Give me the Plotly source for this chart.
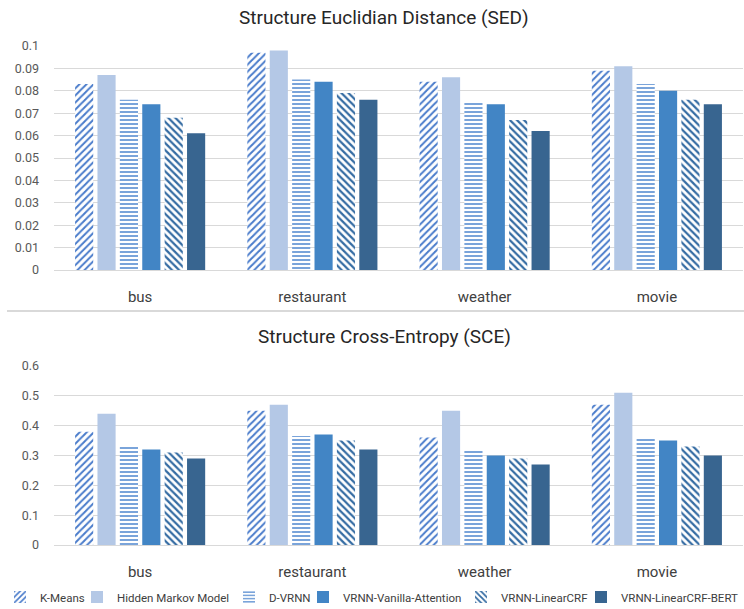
import plotly.graph_objects as go
from plotly.subplots import make_subplots

categories = ["bus", "restaurant", "weather", "movie"]
methods = ["K-Means", "Hidden Markov Model", "D-VRNN", "VRNN-Vanilla-Attention",
           "VRNN-LinearCRF", "VRNN-LinearCRF-BERT"]

sed_kmeans = [0.083, 0.097, 0.084, 0.089]
sed_hmm = [0.087, 0.098, 0.086, 0.091]
sed_dvrnn = [0.076, 0.085, 0.075, 0.083]
sed_vanilla = [0.074, 0.084, 0.074, 0.080]
sed_crf = [0.068, 0.079, 0.067, 0.076]
sed_bert = [0.061, 0.076, 0.062, 0.074]

sce_kmeans = [0.38, 0.45, 0.36, 0.47]
sce_hmm = [0.44, 0.47, 0.45, 0.51]
sce_dvrnn = [0.33, 0.365, 0.32, 0.355]
sce_vanilla = [0.32, 0.37, 0.30, 0.35]
sce_crf = [0.31, 0.35, 0.29, 0.33]
sce_bert = [0.29, 0.32, 0.27, 0.30]

sed_ticks = [0, 0.01, 0.02, 0.03, 0.04, 0.05, 0.06, 0.07, 0.08, 0.09, 0.1]
sed_ticklabels = ["0", "0.01", "0.02", "0.03", "0.04", "0.05", "0.06", "0.07", "0.08", "0.09", "0.1"]
sce_ticks = [0, 0.1, 0.2, 0.3, 0.4, 0.5, 0.6]
sce_ticklabels = ["0", "0.1", "0.2", "0.3", "0.4", "0.5", "0.6"]

sed_series = [sed_kmeans, sed_hmm, sed_dvrnn, sed_vanilla, sed_crf, sed_bert]
sce_series = [sce_kmeans, sce_hmm, sce_dvrnn, sce_vanilla, sce_crf, sce_bert]

styles = [
    dict(color="white", pattern=dict(shape="/", fgcolor="#4A7CCB", bgcolor="white", size=5, solidity=0.4, fillmode="replace")),
    dict(color="#B4C8E6"),
    dict(color="white", pattern=dict(shape="-", fgcolor="#7AA4DA", bgcolor="white", size=4, solidity=0.5, fillmode="replace")),
    dict(color="#4285C5"),
    dict(color="white", pattern=dict(shape="\\", fgcolor="#356CA3", bgcolor="white", size=5, solidity=0.45, fillmode="replace")),
    dict(color="#386590"),
]

FONT = "Roboto, Arial"
W, H = 744, 609

legend_names = ["legend", "legend2", "legend3", "legend4", "legend5", "legend6"]
legend_text_x = [40, 117, 269, 343, 501, 621]

fig = make_subplots(rows=2, cols=1)

for i, name in enumerate(methods):
    fig.add_trace(go.Bar(x=categories, y=sed_series[i], name=name, marker=styles[i],
                         marker_line_width=0, legendgroup=name, showlegend=True,
                         legend=legend_names[i]), row=1, col=1)
    fig.add_trace(go.Bar(x=categories, y=sce_series[i], name=name, marker=styles[i],
                         marker_line_width=0, legendgroup=name, showlegend=False,
                         legend=legend_names[i]), row=2, col=1)

legends = {}
for i, ln in enumerate(legend_names):
    if i == len(legend_names) - 1:
        legends[ln] = dict(orientation="h", x=1, xanchor="right", y=1 - 597 / H,
                           yanchor="middle", font=dict(size=11.5, color="#404040"),
                           itemwidth=30, bgcolor="rgba(0,0,0,0)", borderwidth=0)
    else:
        legends[ln] = dict(orientation="h", x=(legend_text_x[i] - 40) / W, xanchor="left",
                           y=1 - 597 / H, yanchor="middle",
                           font=dict(size=11.5, color="#404040"),
                           itemwidth=30, bgcolor="rgba(0,0,0,0)", borderwidth=0)

xd = [54 / W, 743 / W]
fig.update_layout(
    width=W, height=H,
    margin=dict(l=0, r=0, t=0, b=0, autoexpand=False),
    plot_bgcolor="white", paper_bgcolor="white",
    barmode="group", bargap=0.22, bargroupgap=0.19,
    font=dict(family=FONT, color="#404040"),
    xaxis=dict(domain=xd, tickfont=dict(size=15, color="#404040"), showgrid=False,
               showline=False, ticks="", ticklabelstandoff=16),
    xaxis2=dict(domain=xd, tickfont=dict(size=15, color="#404040"), showgrid=False,
                showline=False, ticks="", ticklabelstandoff=16),
    yaxis=dict(domain=[1 - 270 / H, 1 - 46 / H], range=[0, 0.1], tickvals=sed_ticks,
               ticktext=sed_ticklabels, gridcolor="#D9D9D9", gridwidth=1, zeroline=True,
               zerolinecolor="#D9D9D9", zerolinewidth=1,
               tickfont=dict(size=12.5, color="#595959"), ticklabelstandoff=14),
    yaxis2=dict(domain=[1 - 545 / H, 1 - 366 / H], range=[0, 0.6], tickvals=sce_ticks,
                ticktext=sce_ticklabels, gridcolor="#D9D9D9", gridwidth=1, zeroline=True,
                zerolinecolor="#D9D9D9", zerolinewidth=1,
                tickfont=dict(size=12.5, color="#595959"), ticklabelstandoff=14),
    annotations=[
        dict(text="Structure Euclidian Distance (SED)", x=384 / W, y=1 - 18 / H, xref="paper",
             yref="paper", showarrow=False, font=dict(size=19, color="#262626"),
             xanchor="center", yanchor="middle"),
        dict(text="Structure Cross-Entropy (SCE)", x=384 / W, y=1 - 336 / H, xref="paper",
             yref="paper", showarrow=False, font=dict(size=19, color="#262626"),
             xanchor="center", yanchor="middle"),
    ],
    shapes=[dict(type="line", xref="paper", yref="paper", x0=7 / W, x1=1, y0=1 - 311 / H,
                 y1=1 - 311 / H, line=dict(color="#D9D9D9", width=2))],
    **legends,
)

fig.write_html("out.html", config={"displayModeBar": False},
               post_script="document.body.style.margin='0';")
